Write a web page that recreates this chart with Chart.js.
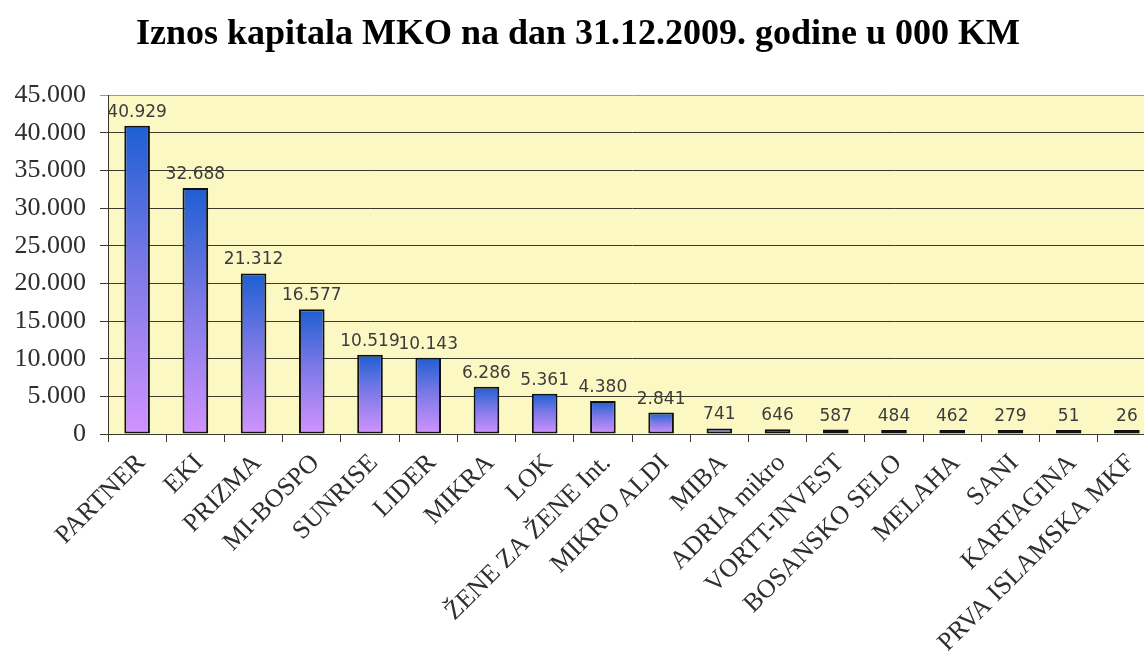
<!DOCTYPE html>
<html>
<head>
<meta charset="utf-8">
<script src="https://cdn.jsdelivr.net/npm/chart.js@4.4.0/dist/chart.umd.min.js"></script>
<style>
    html, body { margin: 0; padding: 0; background: #fff; }
    #wrap { width: 1144px; height: 657px; overflow: hidden; }
    canvas { display: block; }
</style>
</head>
<body>
<div id="wrap"><canvas id="capital-chart" width="1156" height="657"></canvas></div>
<script>
// Data (000 KM)
const institutions = ['PARTNER', 'EKI', 'PRIZMA', 'MI-BOSPO', 'SUNRISE', 'LIDER', 'MIKRA', 'LOK',
    'ŽENE ZA ŽENE Int.', 'MIKRO ALDI', 'MIBA', 'ADRIA mikro', 'VORTT-INVEST', 'BOSANSKO SELO',
    'MELAHA', 'SANI', 'KARTAGINA', 'PRVA ISLAMSKA MKF'];
const capital = [40929, 32688, 21312, 16577, 10519, 10143, 6286, 5361, 4380, 2841,
    741, 646, 587, 484, 462, 279, 51, 26];
const yMin = 0;
const yMax = 45000;
const yStep = 5000;

const titleText = 'Iznos kapitala MKO na dan 31.12.2009. godine u 000 KM';
const textColor = '#2e2e2e';
const gridColor = '#3a3a2a';
const plotBg = '#fbf8c4';

// 40929 -> "40.929"
const fmt = n => String(n).replace(/\B(?=(\d{3})+(?!\d))/g, '.');

// blue at the top of each bar fading to violet at its base
const barGradient = (context) => {
    const chart = context.chart;
    const { ctx, chartArea, scales } = chart;
    if (!chartArea || context.raw === undefined) return '#7a6ae0';
    const top = scales.y.getPixelForValue(context.raw);
    const bottom = scales.y.getPixelForValue(0);
    const g = ctx.createLinearGradient(0, top, 0, Math.max(bottom, top + 1));
    g.addColorStop(0, '#1d5fd2');
    g.addColorStop(0.45, '#7a78e6');
    g.addColorStop(1, '#d193ff');
    return g;
};

const plotBackground = {
    id: 'plotBackground',
    beforeDraw(chart) {
        const { ctx, chartArea } = chart;
        ctx.save();
        ctx.fillStyle = plotBg;
        ctx.fillRect(chartArea.left, chartArea.top, chartArea.right - chartArea.left, chartArea.bottom - chartArea.top);
        ctx.restore();
    }
};

const valueLabels = {
    id: 'valueLabels',
    afterDatasetsDraw(chart) {
        const { ctx } = chart;
        const meta = chart.getDatasetMeta(0);
        ctx.save();
        ctx.font = '17px "DejaVu Sans"';
        ctx.fillStyle = '#3c3c3c';
        ctx.textAlign = 'center';
        ctx.textBaseline = 'bottom';
        meta.data.forEach((bar, i) => {
            ctx.fillText(fmt(capital[i]), bar.x, bar.y - 5);
        });
        ctx.restore();
    }
};

const ctx = document.getElementById('capital-chart').getContext('2d');
const capitalChart = new Chart(ctx, {
    type: 'bar',
    data: {
        labels: institutions,
        datasets: [{
            data: capital,
            backgroundColor: barGradient,
            borderColor: '#111',
            borderWidth: 2,
            borderSkipped: false,
            minBarLength: 4,
            barPercentage: 0.44,
            categoryPercentage: 1
        }]
    },
    options: {
        responsive: false,
        animation: false,
        layout: { padding: { left: 0, right: 0, top: 0, bottom: 0 } },
        plugins: {
            legend: { display: false },
            tooltip: { enabled: false },
            title: {
                display: true,
                text: titleText,
                color: '#000',
                font: { family: 'Liberation Serif', size: 36, weight: 'bold' },
                padding: { top: 13, bottom: 39 }
            }
        },
        scales: {
            x: {
                grid: {
                    display: true,
                    drawOnChartArea: false,
                    drawTicks: true,
                    tickLength: 8,
                    color: gridColor
                },
                border: { display: true, color: gridColor, width: 1 },
                ticks: {
                    autoSkip: false,
                    minRotation: 45,
                    maxRotation: 45,
                    padding: 6,
                    labelOffset: 4,
                    color: textColor,
                    font: { family: 'Liberation Serif', size: 26 }
                },
                afterFit(scale) { scale.height = 223; }
            },
            y: {
                min: yMin,
                max: yMax,
                grid: {
                    color: (c) => (c.tick && c.tick.value === yMax ? '#9a9a90' : gridColor),
                    tickLength: 8
                },
                border: { display: true, color: gridColor, width: 1 },
                ticks: {
                    stepSize: yStep,
                    padding: 14,
                    color: textColor,
                    font: { family: 'Liberation Serif', size: 26 },
                    callback: (v) => fmt(v)
                },
                afterFit(scale) { scale.width = 108; }
            }
        }
    },
    plugins: [plotBackground, valueLabels]
});
</script>
</body>
</html>
